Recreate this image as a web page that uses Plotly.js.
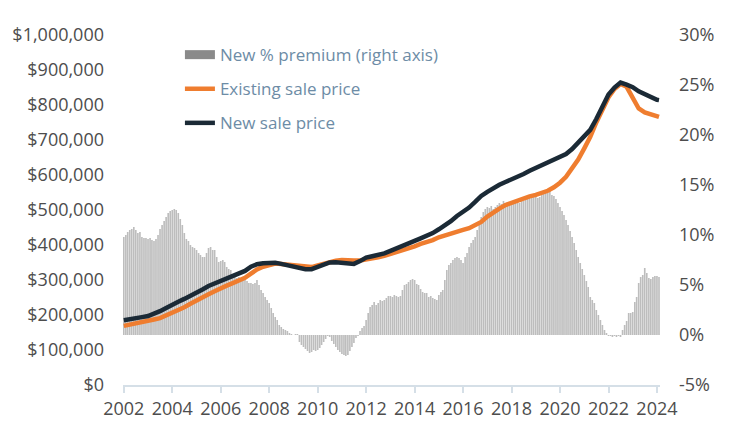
<!DOCTYPE html>
<html>
<head>
<meta charset="utf-8">
<script src="https://cdn.plot.ly/plotly-3.0.1.min.js"></script>
<style>html,body{margin:0;padding:0;background:#fff;}#chart{width:740px;height:442px;}</style>
</head>
<body>
<div id="chart"></div>
<script>
// Monthly new-home price premium over existing homes (%), Jan 2002 - Feb 2024
const premiumStart = [2002, 1];
const premiumPct = [
  9.8, 10.0, 10.3, 10.5, 10.6, 10.8, 10.5, 10.2, 10.3, 9.8, 9.7, 9.7,
  9.6, 9.7, 9.5, 9.4, 9.6, 10.0, 10.6, 11.0, 11.4, 11.8, 12.2, 12.4,
  12.5, 12.6, 12.5, 12.2, 11.6, 11.0, 10.2, 9.6, 9.4, 9.0, 8.8, 8.7,
  8.5, 8.2, 8.0, 7.8, 7.8, 8.2, 8.7, 8.8, 8.5, 8.5, 7.8, 7.3,
  7.4, 7.5, 7.3, 6.8, 6.6, 6.5, 6.1, 5.8, 5.7, 5.8, 5.5, 5.5,
  5.5, 5.4, 5.2, 5.2, 5.1, 5.2, 5.5, 5.0, 4.5, 4.2, 3.8, 3.5,
  3.2, 2.7, 2.2, 1.8, 1.5, 1.0, 0.8, 0.6, 0.5, 0.4, 0.2, 0.1,
  0.0, 0.1, 0.1, -0.7, -1.0, -1.2, -1.4, -1.6, -1.8, -1.7, -1.5, -1.6,
  -1.5, -1.3, -1.0, -0.7, -0.4, -0.1, -0.2, -0.6, -0.9, -1.2, -1.5, -1.7,
  -1.9, -2.0, -2.1, -2.0, -1.6, -1.2, -0.8, -0.3, -0.1, 0.4, 0.7, 0.9,
  1.5, 2.2, 2.8, 3.0, 3.3, 3.0, 3.2, 3.5, 3.4, 3.5, 3.7, 3.9,
  3.9, 3.8, 4.0, 3.9, 3.8, 3.9, 4.5, 5.0, 5.1, 5.3, 5.5, 5.6,
  5.5, 5.1, 5.0, 4.6, 4.3, 4.2, 4.2, 3.8, 3.9, 3.7, 3.6, 3.5,
  4.0, 4.3, 4.5, 5.5, 6.5, 7.0, 7.2, 7.5, 7.7, 7.8, 7.7, 7.5,
  7.2, 7.8, 8.2, 8.8, 9.2, 9.5, 9.8, 10.5, 11.2, 11.8, 12.3, 12.6,
  12.8, 12.7, 12.9, 12.6, 12.8, 13.0, 13.2, 13.1, 13.4, 13.2, 13.3, 13.0,
  13.3, 13.2, 13.4, 13.3, 13.2, 13.5, 13.4, 13.6, 13.8, 13.7, 13.9, 13.8,
  13.9, 13.7, 13.8, 14.0, 14.1, 14.3, 14.2, 14.4, 14.0, 13.9, 13.6, 13.2,
  12.8, 12.4, 12.0, 11.5, 11.0, 10.4, 9.8, 9.2, 8.5, 7.8, 7.2, 6.6,
  6.0, 5.4, 4.8, 3.8, 3.5, 3.2, 2.5, 2.0, 1.5, 1.0, 0.5, 0.2,
  -0.1, -0.1, -0.2, -0.1, -0.2, -0.1, -0.2, 0.5, 1.0, 1.4, 2.2, 2.2,
  2.3, 3.3, 3.8, 5.2, 5.8, 6.0, 6.7, 6.2, 5.7, 5.6, 5.8, 5.9,
  5.9, 5.8
];

// Quarterly sale prices ($ thousands), 2002 Q1 - 2024 Q1, then Feb 2024
const priceEnd = '2024-02-01';
const newPriceK = [
  185, 189, 191, 194,
  197, 203, 211, 220,
  230, 238, 246, 254,
  263, 273, 283, 290,
  297, 304, 311, 318,
  326, 338, 345, 348,
  349, 349, 346, 342,
  337, 335, 331, 331,
  337, 344, 350, 351,
  349, 345, 346, 354,
  364, 368, 371, 376,
  383, 391, 398, 405,
  412, 419, 426, 434,
  445, 455, 468, 483,
  495, 507, 523, 540,
  552, 563, 572, 580,
  587, 594, 603, 612,
  620, 628, 636, 644,
  652, 660, 674, 694,
  712, 729, 760, 798,
  830, 850, 864, 858,
  851, 839, 831, 820,
  815, 814
];
const existingPriceK = [
  169, 172, 176, 179,
  183, 187, 191, 198,
  206, 213, 222, 232,
  242, 252, 259, 268,
  277, 284, 291, 298,
  306, 318, 330, 338,
  343, 347, 346, 344,
  340, 338, 336, 337,
  342, 347, 351, 355,
  357, 358, 356, 356,
  358, 361, 365, 369,
  374, 380, 385, 390,
  396, 403, 408, 414,
  422, 428, 433, 438,
  443, 448, 456, 466,
  481, 494, 504, 514,
  521, 527, 534, 539,
  543, 549, 555, 565,
  578, 595, 617, 644,
  676, 709, 750, 790,
  822, 846, 860, 852,
  818, 790, 779, 772,
  767, 766
];

const seriesNames = ['New % premium (right axis)', 'Existing sale price', 'New sale price'];
const rightTickVals = [-5, 0, 5, 10, 15, 20, 25, 30];
const rightTickText = ['-5%', '0%', '5%', '10%', '15%', '20%', '25%', '30%'];

function pad(n) { return (n < 10 ? '0' : '') + n; }
const premiumDates = premiumPct.map((_, i) => {
  const m = premiumStart[1] - 1 + i;
  return (premiumStart[0] + Math.floor(m / 12)) + '-' + pad(m % 12 + 1) + '-01';
});
const priceDates = newPriceK.map((_, i) => {
  if (i === newPriceK.length - 1) return priceEnd;
  const m = i * 3;
  return (2002 + Math.floor(m / 12)) + '-' + pad(m % 12 + 1) + '-01';
});

const FONT = 'Open Sans, sans-serif';
const traces = [
  {
    type: 'bar', x: premiumDates, y: premiumPct, yaxis: 'y',
    marker: { color: '#bdbdbd', line: { width: 0 } },
    showlegend: false, hoverinfo: 'x+y'
  },
  {
    type: 'scatter', mode: 'lines', x: [null], y: [null], yaxis: 'y',
    name: seriesNames[0], legendgroup: 'a', legendrank: 1,
    line: { color: '#8a8a8a', width: 9 }
  },
  {
    type: 'scatter', mode: 'lines', x: priceDates, y: existingPriceK.map(v => v * 1000), yaxis: 'y2',
    name: seriesNames[1], legendgroup: 'b', legendrank: 2,
    line: { color: '#ef7d2f', width: 4.5 }
  },
  {
    type: 'scatter', mode: 'lines', x: priceDates, y: newPriceK.map(v => v * 1000), yaxis: 'y2',
    name: seriesNames[2], legendgroup: 'c', legendrank: 3,
    line: { color: '#1b2a36', width: 4.5 }
  }
];

const layout = {
  width: 740, height: 442,
  margin: { l: 123, r: 80, t: 35, b: 57 },
  paper_bgcolor: '#ffffff', plot_bgcolor: '#ffffff',
  font: { family: FONT, color: '#4d4d4d', size: 17 },
  bargap: 0.12,
  showlegend: true,
  legend: {
    x: 0.106, y: 0.994, xanchor: 'left', yanchor: 'top',
    font: { family: FONT, size: 17, color: '#6d8ca6' },
    bgcolor: 'rgba(0,0,0,0)', tracegroupgap: 9, itemwidth: 30,
    traceorder: 'grouped'
  },
  xaxis: {
    type: 'date', range: ['2001-12-20', '2024-02-16'],
    showline: true, linecolor: '#d5dfe7', linewidth: 2,
    ticks: 'outside', ticklen: 6, tickwidth: 2, tickcolor: '#d5dfe7',
    dtick: 'M24', tick0: '2002-01-01', tickformat: '%Y',
    tickfont: { family: FONT, size: 18, color: '#4d4d4d' },
    showgrid: false, zeroline: false
  },
  yaxis: {
    side: 'right', range: [-5, 30],
    tickvals: rightTickVals, ticktext: rightTickText,
    showgrid: false, zeroline: false, showline: false,
    ticklabelstandoff: 18,
    tickfont: { family: FONT, size: 18, color: '#4d4d4d' }
  },
  yaxis2: {
    overlaying: 'y', side: 'left', range: [0, 1000000], dtick: 100000,
    tickprefix: '$', tickformat: ',.0f',
    showgrid: false, zeroline: false, showline: false,
    ticklabelstandoff: 18,
    tickfont: { family: FONT, size: 18, color: '#4d4d4d' }
  }
};

Plotly.newPlot('chart', traces, layout, { displayModeBar: false, staticPlot: true });
</script>
</body>
</html>
